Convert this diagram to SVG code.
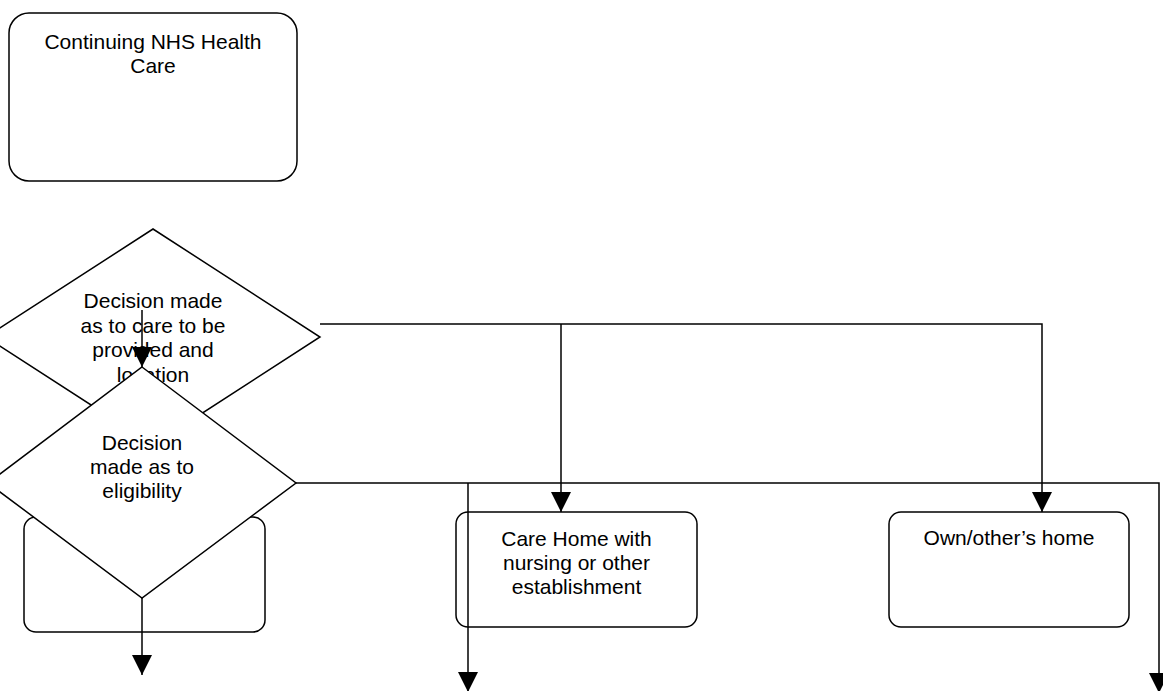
<svg xmlns="http://www.w3.org/2000/svg" width="1163" height="691" viewBox="0 0 1163 691">
<style>
.shape{fill:#fff;stroke:#000;stroke-width:1.5}
.lbl{font-family:"Liberation Sans",Arial,sans-serif;font-size:21px;fill:#000;text-anchor:middle}
.conn{fill:none;stroke:#000;stroke-width:1.5}
</style>
<defs>
<marker id="ah" markerUnits="userSpaceOnUse" viewBox="0 0 20 20" markerWidth="20" markerHeight="20" refX="20" refY="10" orient="auto">
<path d="M0,0 L20,10 L0,20 Z" fill="#000"/>
</marker>
</defs>
<rect width="1163" height="691" fill="#fff"/>
<g id="n-continuing">
<rect class="shape" x="9" y="13" width="288" height="168" rx="20"/>
<text class="lbl" x="153" y="49">Continuing NHS Health</text>
<text class="lbl" x="153" y="72.5">Care</text>
</g>
<g id="n-box-left">
<rect class="shape" x="24" y="517" width="241" height="115" rx="12"/>
</g>
<g id="n-care-decision">
<polygon class="shape" points="153,229 320,337 153,445 -14,337"/>
<text class="lbl" x="153" y="308">Decision made</text>
<text class="lbl" x="153" y="332.5">as to care to be</text>
<text class="lbl" x="153" y="357">provided and</text>
<text class="lbl" x="153" y="381.5">location</text>
</g>
<g id="n-eligibility">
<polygon class="shape" points="142,367 296,483 142,598 -12,483"/>
<text class="lbl" x="142" y="450">Decision</text>
<text class="lbl" x="142" y="474">made as to</text>
<text class="lbl" x="142" y="498">eligibility</text>
</g>
<g id="n-care-home">
<rect class="shape" x="456" y="512" width="241" height="115" rx="12"/>
<text class="lbl" x="576.5" y="546">Care Home with</text>
<text class="lbl" x="576.5" y="570">nursing or other</text>
<text class="lbl" x="576.5" y="594">establishment</text>
</g>
<g id="n-own-home">
<rect class="shape" x="889" y="512" width="240" height="115" rx="12"/>
<text class="lbl" x="1009" y="545">Own/other’s home</text>
</g>
<g id="connectors">
<path class="conn" d="M142,310 V367" marker-end="url(#ah)"/>
<path class="conn" d="M320,324 H1042 V512" marker-end="url(#ah)"/>
<path class="conn" d="M561,324 V512" marker-end="url(#ah)"/>
<path class="conn" d="M296,483 H1159 V693" marker-end="url(#ah)"/>
<path class="conn" d="M468,483 V692" marker-end="url(#ah)"/>
<path class="conn" d="M142,598 V675" marker-end="url(#ah)"/>
</g>
</svg>
